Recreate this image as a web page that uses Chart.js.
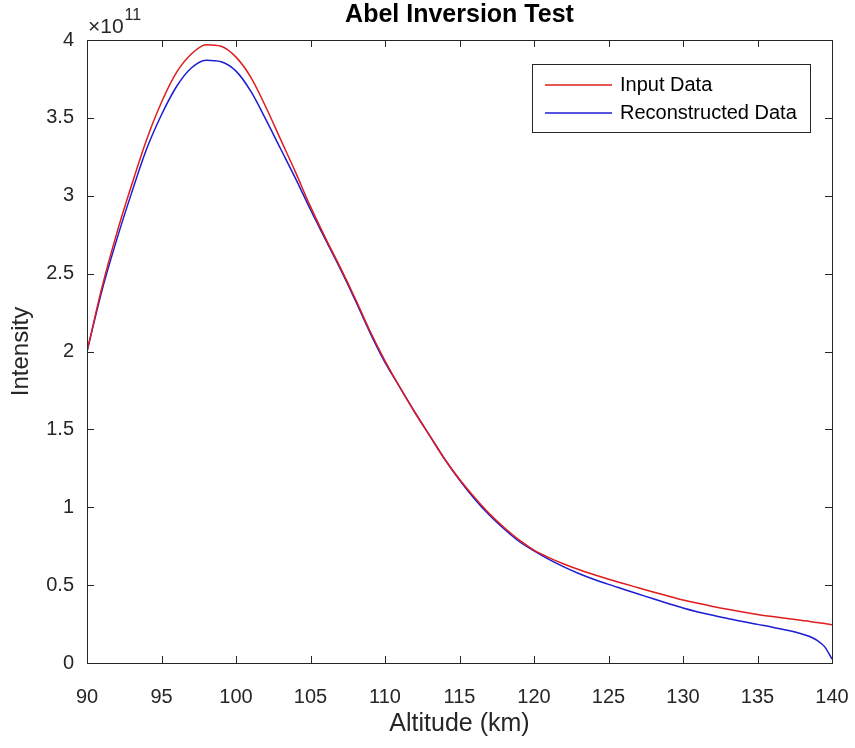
<!DOCTYPE html>
<html>
<head>
<meta charset="utf-8">
<title>Abel Inversion Test</title>
<script src="https://cdn.jsdelivr.net/npm/chart.js@4/dist/chart.umd.min.js"></script>
<style>
  html, body { margin: 0; padding: 0; background: #fff; }
  canvas { display: block; }
</style>
</head>
<body>
<canvas id="abelChart" width="855" height="748"></canvas>
<script>
// -------------------------------
// data (intensity in units of 1e11)
// -------------------------------
const EXPONENT = 11;
const altitude = [
  90, 91, 92, 93, 94, 95, 96, 97, 98, 99,
  100, 101, 102, 103, 104, 105, 106, 107, 108, 109,
  110, 111, 112, 113, 114, 115, 116, 117, 118, 119,
  120, 121, 122, 123, 124, 125, 126, 127, 128, 129,
  130, 131, 132, 133, 134, 135, 136, 137, 138, 138.5,
  139, 139.5, 140
];
const inputData = [
  2.00, 2.41, 2.76, 3.07, 3.36, 3.60, 3.79, 3.91, 3.97, 3.96,
  3.89, 3.76, 3.57, 3.36, 3.15, 2.93, 2.73, 2.54, 2.34, 2.13,
  1.94, 1.77, 1.61, 1.46, 1.31, 1.18, 1.065, 0.96, 0.87, 0.79,
  0.725, 0.677, 0.636, 0.60, 0.568, 0.538, 0.51, 0.483, 0.456, 0.43,
  0.405, 0.383, 0.363, 0.345, 0.328, 0.312, 0.298, 0.285, 0.273, 0.267,
  0.26, 0.253, 0.246
];
const reconstructedData = [
  2.00, 2.39, 2.72, 3.02, 3.30, 3.52, 3.70, 3.82, 3.87, 3.86,
  3.80, 3.67, 3.49, 3.30, 3.11, 2.91, 2.72, 2.53, 2.33, 2.12,
  1.93, 1.77, 1.61, 1.46, 1.31, 1.175, 1.055, 0.95, 0.86, 0.78,
  0.72, 0.665, 0.617, 0.575, 0.538, 0.505, 0.474, 0.443, 0.412, 0.382,
  0.353, 0.328, 0.306, 0.286, 0.266, 0.248, 0.23, 0.21, 0.186, 0.17,
  0.145, 0.105, 0.025
];
const xTicks = [90, 95, 100, 105, 110, 115, 120, 125, 130, 135, 140];
const yTicks = [0, 0.5, 1, 1.5, 2, 2.5, 3, 3.5, 4];

const SCALE = Math.pow(10, EXPONENT);
const AXIS_COLOR = "#262626";
const FONT = "'Liberation Sans', Arial, Helvetica, sans-serif";

function toPoints(values) {
  return altitude.map((a, i) => ({ x: a, y: values[i] * SCALE }));
}

// -------------------------------
// box with inward ticks on all four sides
// -------------------------------
const boxPlugin = {
  id: "box",
  afterDatasetsDraw(chart) {
    const { ctx, chartArea: ca, scales } = chart;
    const len = 7;
    ctx.save();
    ctx.strokeStyle = AXIS_COLOR;
    ctx.lineWidth = 1;
    ctx.beginPath();
    xTicks.forEach(v => {
      const px = Math.round(scales.x.getPixelForValue(v)) + 0.5;
      ctx.moveTo(px, ca.bottom); ctx.lineTo(px, ca.bottom - len);
      ctx.moveTo(px, ca.top); ctx.lineTo(px, ca.top + len);
    });
    yTicks.forEach(v => {
      const py = Math.round(scales.y.getPixelForValue(v * SCALE)) + 0.5;
      ctx.moveTo(ca.left, py); ctx.lineTo(ca.left + len, py);
      ctx.moveTo(ca.right, py); ctx.lineTo(ca.right - len, py);
    });
    ctx.stroke();
    ctx.strokeRect(Math.round(ca.left) + 0.5, Math.round(ca.top) + 0.5,
      Math.round(ca.right - ca.left), Math.round(ca.bottom - ca.top));

    // exponent label above the y axis
    ctx.fillStyle = AXIS_COLOR;
    ctx.textBaseline = "alphabetic";
    ctx.textAlign = "left";
    ctx.font = "21px " + FONT;
    ctx.fillText("\u00d710", ca.left + 1, ca.top - 7);
    const w = ctx.measureText("\u00d710").width;
    ctx.font = "16px " + FONT;
    ctx.fillText(String(EXPONENT), ca.left + 2 + w, ca.top - 20);
    ctx.restore();
  }
};

// -------------------------------
// legend in the upper right corner
// -------------------------------
const legendBoxPlugin = {
  id: "legendBox",
  afterDraw(chart) {
    const { ctx, chartArea: ca } = chart;
    const right = ca.right - 22;
    const left = right - 278;
    const top = ca.top + 24;
    const h = 68;
    ctx.save();
    ctx.fillStyle = "#fff";
    ctx.fillRect(left, top, right - left, h);
    ctx.strokeStyle = AXIS_COLOR;
    ctx.lineWidth = 1;
    ctx.strokeRect(Math.round(left) + 0.5, Math.round(top) + 0.5, right - left, h);
    ctx.font = "20px " + FONT;
    ctx.textBaseline = "middle";
    ctx.textAlign = "left";
    chart.data.datasets.forEach((ds, i) => {
      const y = top + 21 + i * 28;
      ctx.strokeStyle = ds.borderColor;
      ctx.lineWidth = 1.5;
      ctx.beginPath();
      ctx.moveTo(left + 13, y);
      ctx.lineTo(left + 80, y);
      ctx.stroke();
      ctx.fillStyle = "#000";
      ctx.fillText(ds.label, left + 88, y);
    });
    ctx.restore();
  }
};

// -------------------------------
// chart
// -------------------------------
new Chart(document.getElementById("abelChart").getContext("2d"), {
  type: "line",
  data: {
    datasets: [
      {
        label: "Input Data",
        data: toPoints(inputData),
        borderColor: "#e01c1c",
        borderWidth: 1.5,
        pointRadius: 0,
        cubicInterpolationMode: "monotone",
        fill: false
      },
      {
        label: "Reconstructed Data",
        data: toPoints(reconstructedData),
        borderColor: "#1c1cd2",
        borderWidth: 1.5,
        pointRadius: 0,
        cubicInterpolationMode: "monotone",
        fill: false
      }
    ]
  },
  options: {
    responsive: false,
    animation: false,
    layout: { padding: { right: 23 } },
    plugins: {
      legend: { display: false },
      tooltip: { enabled: false },
      title: {
        display: true,
        text: "Abel Inversion Test",
        fullSize: false,
        color: "#000",
        font: { family: FONT, size: 25, weight: "bold", lineHeight: 1.2 },
        padding: { top: 0, bottom: 10 }
      }
    },
    scales: {
      x: {
        type: "linear",
        min: 90,
        max: 140,
        grid: { display: false },
        border: { display: false },
        afterBuildTicks: s => { s.ticks = xTicks.map(v => ({ value: v })); },
        afterFit: s => { s.height = 85; s.paddingLeft = 0; s.paddingRight = 0; },
        ticks: {
          color: AXIS_COLOR,
          font: { family: FONT, size: 20 },
          padding: 14,
          maxRotation: 0,
          callback: v => String(v)
        },
        title: {
          display: true,
          text: "Altitude (km)",
          color: AXIS_COLOR,
          font: { family: FONT, size: 25 },
          padding: { top: 0, bottom: 9 }
        }
      },
      y: {
        min: 0,
        max: 4 * SCALE,
        grid: { display: false },
        border: { display: false },
        afterBuildTicks: s => { s.ticks = yTicks.map(v => ({ value: v * SCALE })); },
        afterFit: s => { s.width = 87; s.paddingTop = 0; s.paddingBottom = 0; },
        ticks: {
          color: AXIS_COLOR,
          font: { family: FONT, size: 20 },
          padding: 5,
          callback: v => String(v / SCALE)
        },
        title: {
          display: true,
          text: "Intensity",
          color: AXIS_COLOR,
          font: { family: FONT, size: 24 },
          padding: { top: 7, bottom: 0 }
        }
      }
    }
  },
  plugins: [boxPlugin, legendBoxPlugin]
});
</script>
</body>
</html>
